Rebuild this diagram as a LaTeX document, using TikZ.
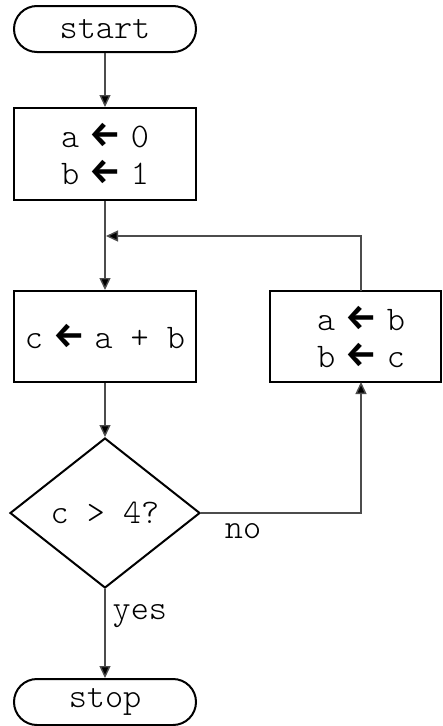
\documentclass[tikz,border=0pt]{standalone}
\usepackage{fontspec}
\setmonofont{Latin Modern Mono Light}
\newfontfamily\arrfont{Fira Sans Bold}
\usetikzlibrary{shapes.geometric,arrows.meta}
\newcommand{\la}{\hspace{10pt}\raisebox{1pt}{\arrfont\fontsize{35}{35}\selectfont\char"2190}\hspace{10pt}}
\begin{document}
\begin{tikzpicture}[x=1pt,y=-1pt,
  every node/.style={font=\ttfamily\fontsize{34.5}{37}\selectfont},
  shapebox/.style={draw=black, line width=2pt, inner sep=0pt, align=center},
  termbox/.style={shapebox, minimum width=182pt, minimum height=46pt, rounded corners=23pt},
  procbox/.style={shapebox, rectangle, minimum height=91pt},
  decbox/.style={shapebox, diamond, minimum width=190pt, minimum height=150pt},
  conn/.style={draw=black!70, line width=1.4pt},
  arr/.style={conn, -{Triangle[length=12pt,width=11pt,fill=black]}},
  lbl/.style={inner sep=0pt}]
\useasboundingbox (0,0) rectangle (443,726);
\node[termbox] (start) at (105,29) {start};
\node[procbox, minimum width=182pt, minimum height=92pt] (init) at (105,154) {a\la 0\\b\la 1};
\node[procbox, minimum width=182pt] (sum) at (105,336.5) {c\la a + b};
\node[procbox, minimum width=171pt] (shift) at (355.5,336.5) {\hspace*{11pt}a\la b\\\hspace*{11pt}b\la c};
\node[decbox] (test) at (105,513) {c > 4?};
\node[termbox] (stop) at (105,702) {stop};
\coordinate (join) at (105,236);
\coordinate (jtip) at (106,236);
\coordinate (up) at (361,236);
\coordinate (nocorner) at (361,513);
\coordinate (shiftbot) at (361,382);
\coordinate (shifttop) at (361,291);
\draw[arr] (start) -- (init);
\draw[arr] (init) -- (sum);
\draw[arr] (sum) -- (test);
\draw[arr] (test) -- node[lbl, anchor=west, xshift=7pt, pos=0.3] (yes) {yes} (stop);
\draw[arr] (test.east) -- (nocorner) -- (shiftbot);
\draw[arr] (shifttop) -- (up) -- (jtip);
\node[lbl] (no) at (243,531) {no};
\end{tikzpicture}
\end{document}
